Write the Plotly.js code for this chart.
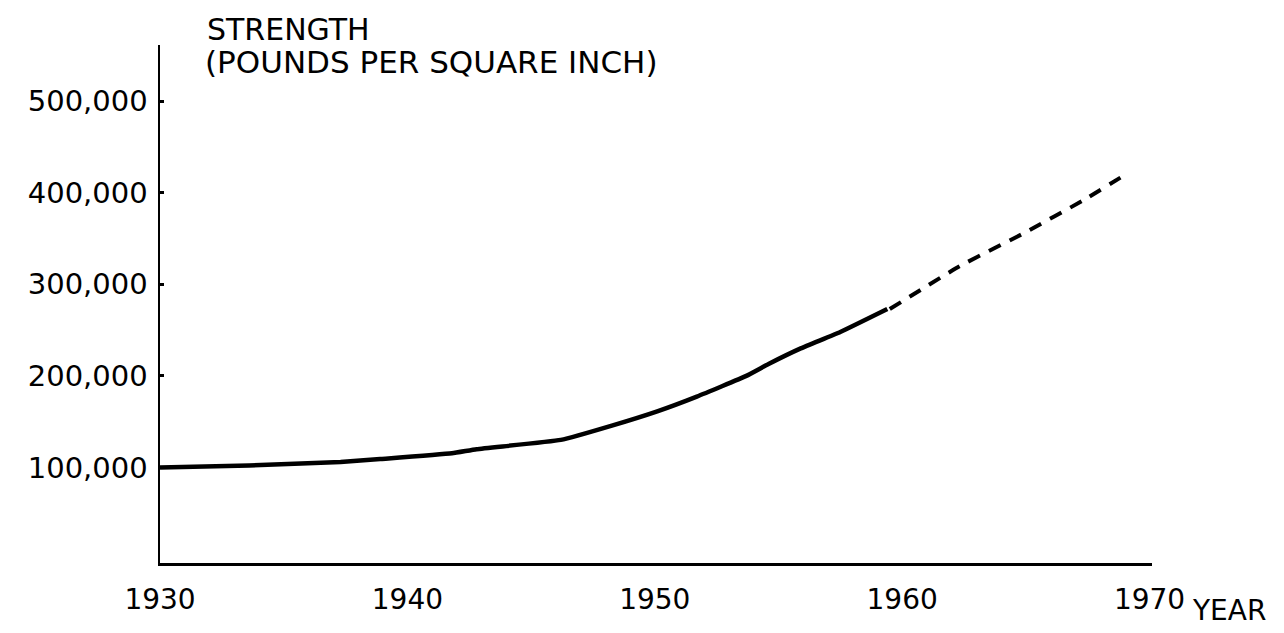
<!DOCTYPE html>
<html>
<head>
<meta charset="utf-8">
<script src="https://cdn.plot.ly/plotly-3.0.1.min.js"></script>
<style>html,body{margin:0;padding:0;background:#fff;}#chart{width:1284px;height:633px;}</style>
</head>
<body>
<div id="chart"></div>
<script>
// Measured strength (solid line)
const yearsMeasured = [1930, 1933.6, 1937.3, 1938.9, 1941.8, 1942.8, 1946.2, 1948.3, 1950.1, 1951.7, 1953.7, 1954.6, 1955.9, 1957.5, 1959.4];
const strengthMeasured = [100000, 102200, 106000, 109200, 115500, 120000, 130100, 146000, 161300, 177400, 200000, 213000, 230000, 248000, 273100];
// Projected strength (dashed line)
const yearsProjected = [1959.5, 1962.3, 1965.0, 1967.3, 1969.0];
const strengthProjected = [273000, 319400, 357000, 391400, 419400];
// Tick labels
const xTickVals = [1930, 1940, 1950, 1960, 1970];
const xTickText = ["1930", "1940", "1950", "1960", "1970"];
const yTickVals = [100000, 200000, 300000, 400000, 500000];
const yTickText = ["100,000", "200,000", "300,000", "400,000", "500,000"];
const yTitleLine1 = "STRENGTH";
const yTitleLine2 = "(POUNDS PER SQUARE INCH)";
const xTitle = "YEAR";

const font = "DejaVu Sans, sans-serif";

const traces = [
  {x: yearsMeasured, y: strengthMeasured, type: "scatter", mode: "lines",
   line: {color: "#000", width: 4.5, shape: "spline", smoothing: 0.4}, hoverinfo: "x+y"},
  {x: yearsProjected, y: strengthProjected, type: "scatter", mode: "lines",
   line: {color: "#000", width: 4, dash: "13px,10px", shape: "spline", smoothing: 0.4}, hoverinfo: "x+y"}
];

const layout = {
  width: 1284, height: 633,
  margin: {l: 160, r: 132, t: 45, b: 70},
  paper_bgcolor: "#fff", plot_bgcolor: "#fff",
  showlegend: false,
  font: {family: font, color: "#000"},
  xaxis: {
    range: [1930, 1970.1], showgrid: false, zeroline: false,
    showline: true, linecolor: "#000", linewidth: 2.5,
    tickvals: xTickVals, ticktext: xTickText, ticks: "",
    tickfont: {size: 28, family: font, color: "#000"}, ticklabelstandoff: 10
  },
  yaxis: {
    range: [-4300, 561300], showgrid: false, zeroline: false,
    showline: true, linecolor: "#000", linewidth: 2.5,
    tickvals: yTickVals, ticktext: yTickText, ticks: "inside", ticklen: 4, tickwidth: 3, tickcolor: "#000",
    tickfont: {size: 29, family: font, color: "#000"}, ticklabelstandoff: 4
  },
  annotations: [
    {xref: "paper", yref: "paper", x: 0.045, y: 1.029, xanchor: "left", yanchor: "middle",
     text: yTitleLine1, showarrow: false, font: {size: 30, family: font, color: "#000"}},
    {xref: "paper", yref: "paper", x: 0.043, y: 0.967, xanchor: "left", yanchor: "middle",
     text: yTitleLine2, showarrow: false, font: {size: 31, family: font, color: "#000"}},
    {xref: "paper", yref: "paper", x: 1.078, y: -0.091, xanchor: "center", yanchor: "middle",
     text: xTitle, showarrow: false, font: {size: 28, family: font, color: "#000"}}
  ]
};

Plotly.newPlot("chart", traces, layout, {displayModeBar: false, staticPlot: true});
</script>
</body>
</html>
